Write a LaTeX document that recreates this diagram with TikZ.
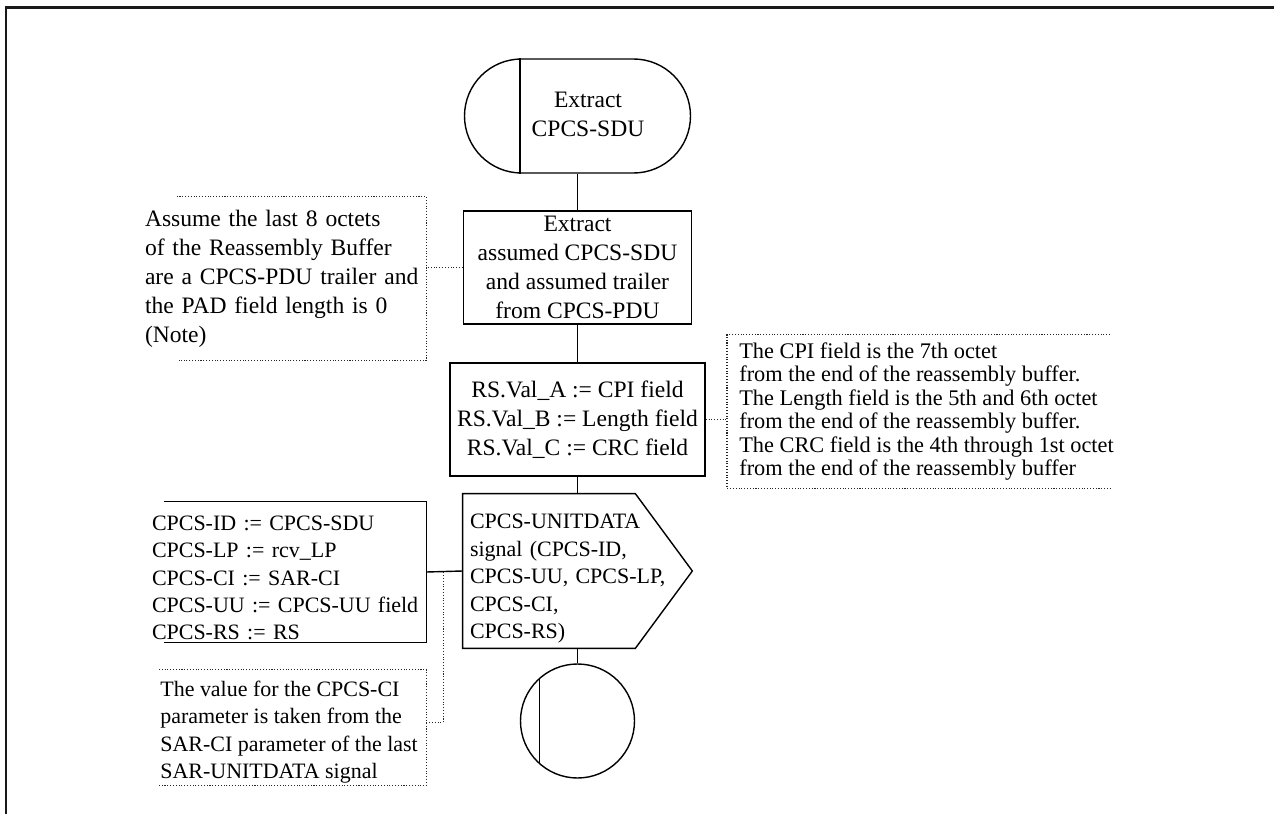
\documentclass[tikz,border=0pt]{standalone}
\usepackage{fontspec}
\setmainfont{Liberation Serif}
\usepackage{tikz}
\usetikzlibrary{shapes.misc, calc}
\newcommand{\flowfont}{\fontsize{13.4}{16.5}\selectfont}
\newcommand{\sidefont}{\fontsize{12.5}{15.6}\selectfont}
\newcommand{\remfont}{\fontsize{12.7}{13.4}\selectfont}
\tikzset{
  flowline/.style={draw=black,line width=0.8pt},
  frameline/.style={draw=black!90,line width=1.2pt},
  procbox/.style={rectangle,flowline,align=center,inner sep=0pt,font=\flowfont},
  termbox/.style={rounded rectangle,flowline,minimum width=4.52cm,minimum height=2.28cm,inner sep=0pt},
  stopnode/.style={circle,flowline,minimum size=2.28cm,inner sep=0pt},
  sigbox/.style={rectangle,align=left,inner xsep=0.14cm,inner ysep=0pt,font=\sidefont},
  txtbox/.style={rectangle,align=left,inner ysep=0pt},
  notebox/.style={densely dotted,line width=0.6pt,black!85},
}
\begin{document}
\begin{tikzpicture}
  \useasboundingbox (0,0) rectangle (25.48,-16.28);
  \draw[frameline] (0.12,-16.28) -- (0.12,-0.15) -- (25.48,-0.15);
  % main flow
  \node[termbox] (start) at (11.55,-2.32) {};
  \node[font=\flowfont,align=center,inner sep=0pt] (starttxt) at (11.76,-2.28) {Extract\\CPCS-SDU};
  \node[procbox,minimum width=4.56cm,minimum height=2.26cm] (extr) at (11.55,-5.35)
    {Extract\\assumed CPCS-SDU\\and assumed trailer\\from CPCS-PDU};
  \node[procbox,minimum width=5.1cm,minimum height=2.26cm] (rsval) at (11.55,-8.39)
    {RS.Val\_A := CPI field\\RS.Val\_B := Length field\\RS.Val\_C := CRC field};
  \node[sigbox,text width=4.3cm,minimum height=3.08cm] (sig) at (11.55,-11.42)
    {\rule{0pt}{17pt}CPCS-UNITDATA\\signal (CPCS-ID,\\CPCS-UU, CPCS-LP,\\CPCS-CI,\\CPCS-RS)};
  \node[stopnode] (stop) at (11.55,-14.42) {};
  % side boxes
  \node[txtbox,inner xsep=0pt,text width=5.62cm,minimum height=3.26cm,font=\flowfont] (note1) at (5.71,-5.57)
    {Assume the last 8 octets\\of the Reassembly Buffer\\are a CPCS-PDU trailer and\\the PAD field length is 0\\(Note)};
  \node[txtbox,anchor=west,inner xsep=0.24cm,minimum height=3.06cm,font=\remfont] (note2) at (14.54,-8.23)
    {The CPI field is the 7th octet\\from the end of the reassembly buffer.\\The Length field is the 5th and 6th octet\\from the end of the reassembly buffer.\\The CRC field is the 4th through 1st octet\\from the end of the reassembly buffer};
  \node[txtbox,inner xsep=0pt,text width=5.48cm,minimum height=2.8cm,font=\sidefont] (assign) at (5.78,-11.44)
    {\rule{0pt}{15pt}CPCS-ID := CPCS-SDU\\CPCS-LP := rcv\_LP\\CPCS-CI := SAR-CI\\CPCS-UU := CPCS-UU field\\CPCS-RS := RS};
  \node[txtbox,anchor=west,inner xsep=0.02cm,minimum height=2.3cm,font=\sidefont] (note3) at (3.18,-14.55)
    {\rule{0pt}{14pt}The value for the CPCS-CI\\parameter is taken from the\\SAR-CI parameter of the last\\SAR-UNITDATA signal};
  % outlines
  \draw[flowline] ([xshift=1.12cm]start.west |- start.north) -- ([xshift=1.12cm]start.west |- start.south);
  \draw[flowline] (sig.north west) -- ([xshift=-1.14cm]sig.north east) -- (sig.east)
    -- ([xshift=-1.14cm]sig.south east) -- (sig.south west) -- cycle;
  \draw[flowline] ([shift={(-0.76,0.85)}]stop.center) -- ([shift={(-0.76,-0.85)}]stop.center);
  \draw[flowline] ([xshift=0.24cm]assign.north west) -- (assign.north east) -- (assign.south east) -- ([xshift=0.24cm]assign.south west);
  \draw[notebox] ([xshift=0.64cm]note1.north west) -- (note1.north east) -- (note1.south east) -- ([xshift=0.68cm]note1.south west);
  \draw[notebox] ([xshift=7.66cm]note2.north west) -- (note2.north west) -- (note2.south west) -- ([xshift=7.66cm]note2.south west);
  \draw[notebox] (note3.north west) -- (note3.north west -| assign.east) -- (note3.south west -| assign.east) -- (note3.south west);
  % connectors
  \draw[flowline] (start.south) -- (extr.north);
  \draw[flowline] (extr.south) -- (rsval.north);
  \draw[flowline] (rsval.south) -- (sig.north);
  \draw[flowline] (sig.south) -- (stop.north);
  \draw[flowline] (assign.east) -- (sig.west);
  \draw[notebox] (extr.west) -- (extr.west -| note1.east);
  \draw[notebox] (rsval.east) -- (rsval.east -| note2.west);
  \draw[notebox] ([yshift=0.1cm]note3.east -| assign.east) -| ($(assign.east)!0.46!(sig.west)$);
\end{tikzpicture}
\end{document}
